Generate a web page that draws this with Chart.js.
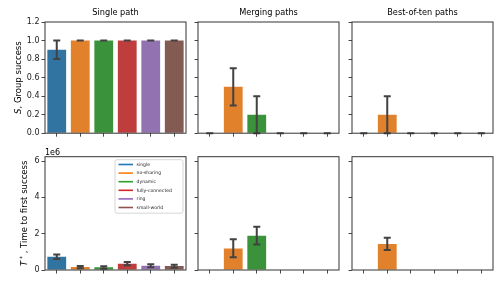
<!DOCTYPE html>
<html>
<head>
<meta charset="utf-8">
<script src="https://cdn.jsdelivr.net/npm/chart.js@4"></script>
<style>
  html, body { margin: 0; padding: 0; background: #fff; }
  #wrap { position: relative; width: 501px; height: 284px; overflow: hidden; }
  canvas { position: absolute; }
</style>
</head>
<body>
<div id="wrap"></div>
<script>
const categories = ['single', 'no-sharing', 'dynamic', 'fully-connected', 'ring', 'small-world'];
const panelTitles = ['Single path', 'Merging paths', 'Best-of-ten paths'];
const barColors = ['#3274a1', '#e1812c', '#3a923a', '#c03d3e', '#9372b2', '#845b53'];
const legendColors = ['#1f77b4', '#ff7f0e', '#2ca02c', '#d62728', '#9467bd', '#8c564b'];

// S, group success (mean and error-bar ends)
const successSingle   = [0.9, 1, 1, 1, 1, 1];
const successSingleLo = [0.8, 1, 1, 1, 1, 1];
const successSingleHi = [1.0, 1, 1, 1, 1, 1];
const successMerge    = [0, 0.5, 0.2, 0, 0, 0];
const successMergeLo  = [0, 0.3, 0.0, 0, 0, 0];
const successMergeHi  = [0, 0.7, 0.4, 0, 0, 0];
const successBest     = [0, 0.2, 0, 0, 0, 0];
const successBestLo   = [0, 0.0, 0, 0, 0, 0];
const successBestHi   = [0, 0.4, 0, 0, 0, 0];

// T*, time to first success
const timeSingle   = [730000, 165000, 150000, 350000, 240000, 220000];
const timeSingleLo = [600000, 90000, 70000, 260000, 150000, 130000];
const timeSingleHi = [860000, 220000, 200000, 440000, 310000, 290000];
const timeMerge    = [null, 1190000, 1890000, null, null, null];
const timeMergeLo  = [null, 700000, 1410000, null, null, null];
const timeMergeHi  = [null, 1690000, 2380000, null, null, null];
const timeBest     = [null, 1430000, null, null, null, null];
const timeBestLo   = [null, 1100000, null, null, null, null];
const timeBestHi   = [null, 1780000, null, null, null, null];

const successTicks = [0, 0.2, 0.4, 0.6, 0.8, 1.0, 1.2];
const timeTicks = [0, 2000000, 4000000, 6000000];
const successMax = 1.2;
const timeMax = 6240000;

const FONT = "'DejaVu Sans', sans-serif";
const AXIS = '#333333';
const ERR = '#424242';

const wrap = document.getElementById('wrap');

const framePlugin = {
  id: 'frame',
  afterDraw(chart) {
    const a = chart.chartArea, ctx = chart.ctx;
    ctx.save();
    ctx.strokeStyle = AXIS;
    ctx.lineWidth = 1;
    ctx.strokeRect(a.left, a.top, a.right - a.left, a.bottom - a.top);
    ctx.restore();
  }
};

const errorPlugin = {
  id: 'errbars',
  afterDatasetsDraw(chart, args, opts) {
    const ctx = chart.ctx;
    const meta = chart.getDatasetMeta(0);
    const y = chart.scales.y;
    ctx.save();
    ctx.strokeStyle = ERR;
    ctx.lineWidth = 2;
    opts.values.forEach((v, i) => {
      if (v === null) return;
      const x = meta.data[i].x;
      const y0 = y.getPixelForValue(opts.lo[i]);
      const y1 = y.getPixelForValue(opts.hi[i]);
      ctx.beginPath();
      ctx.moveTo(x, y0); ctx.lineTo(x, y1);
      ctx.moveTo(x - 3.5, y0); ctx.lineTo(x + 3.5, y0);
      ctx.moveTo(x - 3.5, y1); ctx.lineTo(x + 3.5, y1);
      ctx.stroke();
    });
    ctx.restore();
  }
};

const textPlugin = {
  id: 'texts',
  afterDraw(chart, args, opts) {
    const a = chart.chartArea, ctx = chart.ctx;
    ctx.save();
    ctx.fillStyle = '#000';
    if (opts.title) {
      ctx.font = '8.2px ' + FONT;
      ctx.textAlign = 'center';
      ctx.textBaseline = 'middle';
      ctx.fillText(opts.title, (a.left + a.right) / 2, opts.titleY);
    }
    if (opts.offsetText) {
      ctx.font = '8px ' + FONT;
      ctx.textAlign = 'left';
      ctx.textBaseline = 'alphabetic';
      ctx.fillText(opts.offsetText, a.left, a.top - 2);
    }
    if (opts.ylabel) {
      ctx.translate(opts.ylabelX, (a.top + a.bottom) / 2);
      ctx.rotate(-Math.PI / 2);
      ctx.textBaseline = 'middle';
      ctx.textAlign = 'left';
      const parts = opts.ylabel;
      const fontOf = p => (p.italic ? 'italic ' : '') + (p.sup ? '6px ' : '8.5px ') + FONT;
      let total = 0;
      parts.forEach(p => { ctx.font = fontOf(p); total += ctx.measureText(p.t).width; });
      let x = -total / 2;
      parts.forEach(p => {
        ctx.font = fontOf(p);
        ctx.fillText(p.t, x, p.sup ? -3 : 0);
        x += ctx.measureText(p.t).width;
      });
    }
    ctx.restore();
  }
};

const legendPlugin = {
  id: 'boxlegend',
  afterDraw(chart, args, opts) {
    if (!opts.show) return;
    const a = chart.chartArea, ctx = chart.ctx;
    const w = 68, h = 53.5;
    const bx = a.right - 3 - w, by = a.top + 3;
    ctx.save();
    ctx.fillStyle = 'rgba(255,255,255,0.8)';
    ctx.strokeStyle = '#cccccc';
    ctx.lineWidth = 0.8;
    ctx.beginPath();
    ctx.roundRect(bx, by, w, h, 2);
    ctx.fill();
    ctx.stroke();
    ctx.font = '4.6px ' + FONT;
    ctx.textBaseline = 'middle';
    ctx.textAlign = 'left';
    categories.forEach((c, i) => {
      const yy = by + 4.8 + i * 8.6;
      ctx.strokeStyle = legendColors[i];
      ctx.lineWidth = 1.6;
      ctx.beginPath();
      ctx.moveTo(bx + 3.5, yy); ctx.lineTo(bx + 18, yy);
      ctx.stroke();
      ctx.fillStyle = '#222';
      ctx.fillText(c, bx + 21.5, yy);
    });
    ctx.restore();
  }
};

function makePanel(p) {
  const canvas = document.createElement('canvas');
  const cw = p.padL + p.plotW + p.padR;
  const ch = p.padT + p.plotH + p.padB;
  canvas.width = cw; canvas.height = ch;
  canvas.style.left = p.left + 'px';
  canvas.style.top = p.top + 'px';
  canvas.style.width = cw + 'px';
  canvas.style.height = ch + 'px';
  wrap.appendChild(canvas);

  const gridOpts = {
    display: true, drawOnChartArea: false, drawTicks: true,
    tickLength: 3.5, color: AXIS, lineWidth: 0.9, offset: false
  };

  new Chart(canvas, {
    type: 'bar',
    data: {
      labels: categories,
      datasets: [{
        data: p.values,
        backgroundColor: barColors,
        borderWidth: 0,
        categoryPercentage: 1.0,
        barPercentage: 0.8
      }]
    },
    options: {
      responsive: false,
      animation: false,
      devicePixelRatio: 1,
      layout: { padding: { left: 0, right: p.padR, top: p.padT, bottom: 0 } },
      plugins: {
        legend: { display: false },
        tooltip: { enabled: false },
        errbars: { values: p.values, lo: p.lo, hi: p.hi },
        texts: {
          title: p.title, titleY: 13,
          ylabel: p.ylabel, ylabelX: p.ylabelX,
          offsetText: p.offsetText
        },
        boxlegend: { show: !!p.legend }
      },
      scales: {
        x: {
          type: 'category',
          offset: true,
          grid: gridOpts,
          border: { display: false },
          ticks: { display: false },
          afterFit(s) { s.height = p.padB; }
        },
        y: {
          min: 0, max: p.yMax,
          grid: gridOpts,
          border: { display: false },
          ticks: {
            display: true,
            padding: 2,
            color: '#222',
            font: { family: FONT, size: 8 },
            callback: v => p.showLabels ? p.fmt(v) : ''
          },
          afterBuildTicks(s) { s.ticks = p.yTicks.map(v => ({ value: v })); },
          afterFit(s) { s.width = p.padL; }
        }
      }
    },
    plugins: [errorPlugin, framePlugin, textPlugin, legendPlugin]
  });
}

const colLeft = [0, 190, 343.5];
const colPadL = [45, 8, 8];
const colPadR = [3, 3, 5];
const topVals = [[successSingle, successSingleLo, successSingleHi],
                 [successMerge, successMergeLo, successMergeHi],
                 [successBest, successBestLo, successBestHi]];
const botVals = [[timeSingle, timeSingleLo, timeSingleHi],
                 [timeMerge, timeMergeLo, timeMergeHi],
                 [timeBest, timeBestLo, timeBestHi]];

for (let c = 0; c < 3; c++) {
  makePanel({
    left: colLeft[c], top: 0,
    padL: colPadL[c], padR: colPadR[c], padT: 22, padB: 6,
    plotW: 141, plotH: 112,
    values: topVals[c][0], lo: topVals[c][1], hi: topVals[c][2],
    yMax: successMax, yTicks: successTicks,
    showLabels: c === 0, fmt: v => v.toFixed(1),
    title: panelTitles[c],
    ylabel: c === 0 ? [{ t: 'S', italic: true }, { t: ', Group success' }] : null,
    ylabelX: 19
  });
  makePanel({
    left: colLeft[c], top: 140,
    padL: colPadL[c], padR: colPadR[c], padT: 16.7, padB: 8,
    plotW: 141, plotH: 113.3,
    values: botVals[c][0], lo: botVals[c][1], hi: botVals[c][2],
    yMax: timeMax, yTicks: timeTicks,
    showLabels: c === 0, fmt: v => (v / 1e6).toFixed(0),
    offsetText: c === 0 ? '1e6' : null,
    ylabel: c === 0 ? [{ t: 'T', italic: true }, { t: ' *', sup: true }, { t: ' , Time to first success' }] : null,
    ylabelX: 25,
    legend: c === 0
  });
}
</script>
</body>
</html>
